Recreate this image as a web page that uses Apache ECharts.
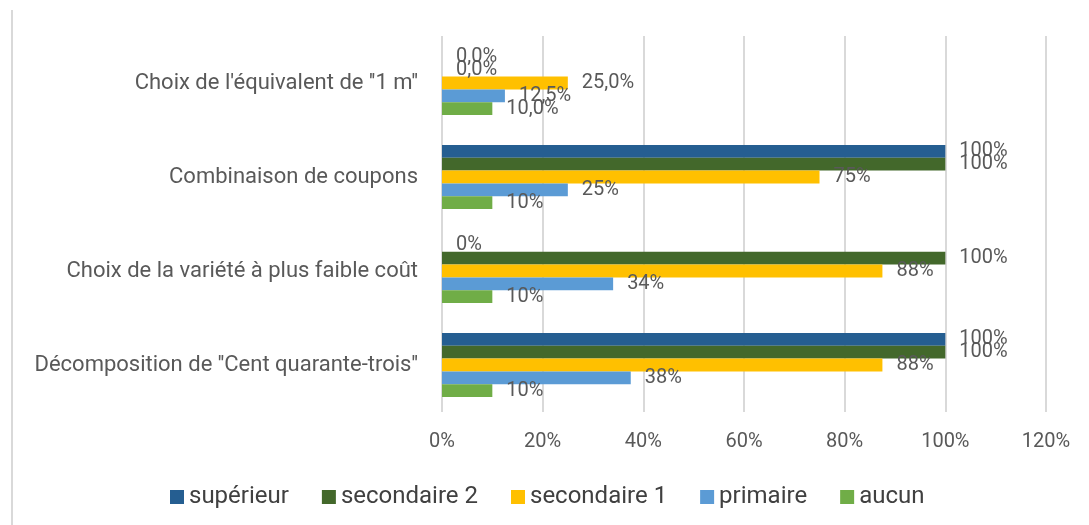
<!DOCTYPE html>
<html>
<head>
<meta charset="utf-8">
<script src="https://cdn.jsdelivr.net/npm/echarts@6/dist/echarts.min.js"></script>
<style>
  html, body { margin: 0; padding: 0; background: #fff; }
  #chart { width: 1089px; height: 525px; }
</style>
</head>
<body>
<div id="chart"></div>
<script>
// categories, top to bottom
var categories = [
  "Choix de l'équivalent de ''1 m''",
  'Combinaison de coupons',
  'Choix de la variété à plus faible coût',
  "Décomposition de ''Cent quarante-trois''"
];
// decimals shown in the labels of each category
var labelDecimals = [1, 0, 0, 0];

var seriesNames = ['supérieur', 'secondaire 2', 'secondaire 1', 'primaire', 'aucun'];
var superieur   = [0, 100, 0, 100];
var secondaire2 = [0, 100, 100, 100];
var secondaire1 = [25, 75, 87.5, 87.5];
var primaire    = [12.5, 25, 34, 37.5];
var aucun       = [10, 10, 10, 10];

var xTicks = [0, 20, 40, 60, 80, 100, 120];

var colors = ['#255e91', '#43682b', '#ffc000', '#5b9bd5', '#70ad47'];
var values = [superieur, secondaire2, secondaire1, primaire, aucun];
var font = 'Roboto, sans-serif';

var chart = echarts.init(document.getElementById('chart'));

function fmtLabel(p) {
  var d = labelDecimals[p.dataIndex];
  return p.value.toFixed(d).replace('.', ',') + '%';
}

var series = seriesNames.map(function (name, i) {
  return {
    name: name,
    type: 'bar',
    data: values[i],
    barGap: '0%',
    barCategoryGap: '32%',
    itemStyle: { color: colors[i] },
    label: {
      show: true,
      position: 'right',
      distance: 14,
      color: '#595959',
      fontSize: 20,
      fontFamily: font,
      formatter: fmtLabel
    }
  };
});

chart.setOption({
  animation: false,
  textStyle: { fontFamily: font },
  grid: { left: 442, right: 43, top: 36, bottom: 113 },
  graphic: [{
    type: 'line',
    shape: { x1: 12, y1: 10, x2: 12, y2: 525 },
    style: { stroke: '#d9d9d9', lineWidth: 2 }
  }],
  legend: {
    data: seriesNames,
    top: 480,
    left: 165,
    itemWidth: 14,
    itemHeight: 14,
    itemGap: 33,
    icon: 'rect',
    textStyle: { color: '#404040', fontSize: 24, fontFamily: font }
  },
  xAxis: {
    type: 'value',
    min: xTicks[0],
    max: xTicks[xTicks.length - 1],
    interval: xTicks[1] - xTicks[0],
    axisLine: { show: false },
    axisTick: { show: false },
    splitLine: { lineStyle: { color: '#d9d9d9', width: 2 } },
    axisLabel: {
      color: '#595959',
      fontSize: 20,
      margin: 20,
      formatter: '{value}%'
    }
  },
  yAxis: {
    type: 'category',
    inverse: true,
    data: categories,
    axisLine: { show: false },
    axisTick: { show: false },
    axisLabel: { color: '#595959', fontSize: 22, margin: 24 }
  },
  series: series
});
</script>
</body>
</html>
